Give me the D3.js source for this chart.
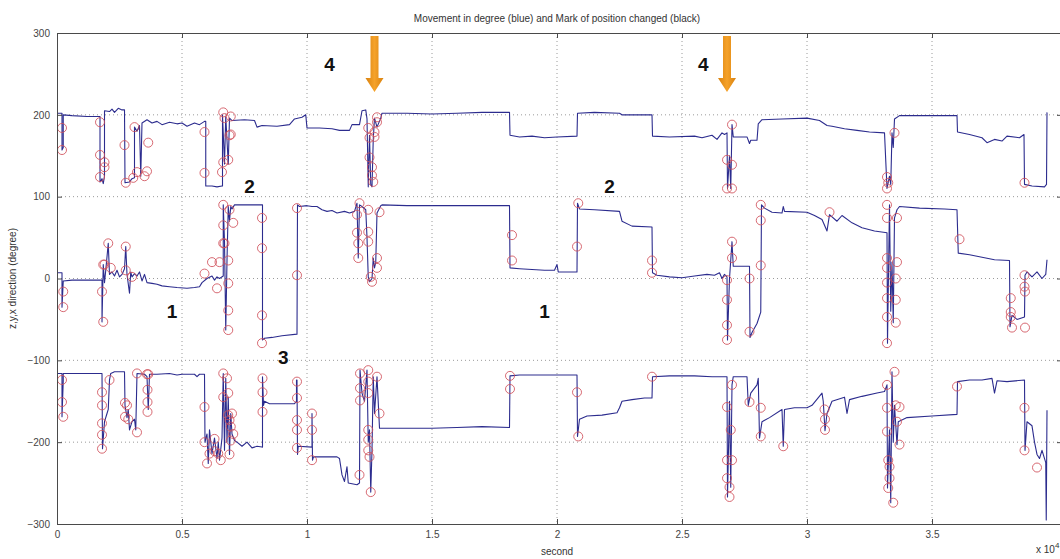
<!DOCTYPE html>
<html>
<head>
<meta charset="utf-8">
<script src="https://cdn.jsdelivr.net/npm/d3@7"></script>
<style>
  body { margin: 0; background: #fff; }
  svg { display: block; font-family: "Liberation Sans", Arial, sans-serif; }
  .grid line { stroke: #9a9a9a; stroke-dasharray: 1,3; }
  .axis path, .axis line { stroke: #4a4a4a; }
  .axis text { fill: #444; font-size: 10px; }
</style>
</head>
<body>
<svg id="chart" width="1060" height="559"></svg>
<script>
// x values in units of 10^4 seconds, y in degrees

// z direction (top band)
var topTrace = [[0.00,202],[0.02,202],[0.02,157],[0.025,160],[0.025,200],[0.06,199],[0.12,198],[0.17,198],[0.172,198],[0.172,118],
  [0.18,122],[0.185,116],[0.19,125],[0.19,205],[0.21,204],[0.22,207],[0.23,203],[0.245,208],[0.26,206],[0.27,206],[0.272,117],
  [0.29,118],[0.30,122],[0.31,123],[0.31,185],[0.32,180],[0.33,187],[0.335,125],[0.34,190],[0.36,194],[0.38,190],[0.40,192],
  [0.42,188],[0.45,191],[0.48,189],[0.50,190],[0.52,186],[0.55,190],[0.57,188],[0.59,192],[0.595,192],[0.595,113],[0.62,113],
  [0.64,112],[0.66,113],[0.662,113],[0.662,200],[0.67,140],[0.675,198],[0.685,140],[0.69,196],[0.70,193],[0.75,194],[0.79,193],
  [0.80,185],[0.82,187],[0.88,186],[0.93,188],[0.95,195],[0.98,197],[0.995,200],[1.0,184],[1.05,184],[1.10,183],[1.13,181],
  [1.17,181],[1.18,188],[1.21,188],[1.22,205],[1.235,206],[1.24,195],[1.245,112],[1.25,175],[1.255,115],[1.26,112],[1.265,170],
  [1.27,196],[1.28,185],[1.295,196],[1.30,202],[1.40,202],[1.50,201],[1.60,202],[1.70,203],[1.81,203],[1.812,175],[1.85,173],
  [1.90,174],[1.95,172],[2.0,173],[2.08,174],[2.082,202],[2.15,203],[2.25,202],[2.26,200],[2.38,200],[2.382,174],[2.45,173],
  [2.55,174],[2.58,172],[2.62,175],[2.64,170],[2.66,178],[2.67,176],[2.68,178],[2.682,110],[2.69,150],[2.695,110],[2.70,188],
  [2.705,173],[2.76,173],[2.77,165],[2.775,169],[2.80,169],[2.805,189],[2.82,194],[2.90,195],[3.0,196],[3.05,193],[3.08,187],
  [3.10,186],[3.15,183],[3.20,181],[3.25,179],[3.31,178],[3.32,110],[3.33,125],[3.335,115],[3.34,178],[3.345,160],[3.35,195],
  [3.37,199],[3.45,199],[3.55,199],[3.60,199],[3.602,179],[3.65,176],[3.70,172],[3.72,166],[3.75,170],[3.78,168],[3.80,174],
  [3.85,172],[3.868,176],[3.87,115],[3.90,113],[3.95,112],[3.958,115],[3.96,203]];

// y direction (middle band)
var midTrace = [[0.0,7],[0.02,7],[0.02,-35],[0.025,-3],[0.06,-2],[0.10,-2],[0.18,-2],[0.18,-53],[0.185,17],[0.19,-5],[0.195,10],
  [0.205,43],[0.21,5],[0.22,8],[0.23,3],[0.24,10],[0.25,2],[0.26,5],[0.27,12],[0.275,39],[0.28,5],[0.29,-18],[0.295,8],[0.30,2],
  [0.31,6],[0.32,3],[0.33,8],[0.34,-3],[0.35,5],[0.36,-5],[0.38,-6],[0.40,-7],[0.42,-9],[0.45,-10],[0.48,-11],[0.52,-12],
  [0.55,-11],[0.57,-10],[0.58,-5],[0.60,0],[0.62,3],[0.63,-2],[0.64,2],[0.65,0],[0.665,3],[0.665,90],[0.67,45],[0.675,-63],
  [0.68,22],[0.685,88],[0.69,70],[0.695,88],[0.70,85],[0.71,90],[0.75,90],[0.822,90],[0.822,-75],[0.83,-73],[0.86,-72],
  [0.90,-70],[0.96,-68],[0.962,90],[0.97,88],[1.0,89],[1.02,88],[1.04,88],[1.06,84],[1.08,82],[1.10,83],[1.12,80],[1.15,82],
  [1.17,80],[1.19,82],[1.20,92],[1.205,25],[1.21,90],[1.22,88],[1.235,84],[1.24,50],[1.245,2],[1.25,-4],[1.26,0],[1.265,25],
  [1.27,13],[1.275,20],[1.28,80],[1.295,89],[1.30,90],[1.40,89],[1.50,89],[1.60,89],[1.70,89],[1.81,89],[1.812,13],[1.85,12],
  [1.90,11],[1.95,10],[1.99,10],[2.0,17],[2.005,8],[2.05,8],[2.08,8],[2.082,92],[2.09,85],[2.15,84],[2.25,82],[2.26,70],
  [2.30,64],[2.38,63],[2.382,7],[2.40,4],[2.45,2],[2.50,1],[2.55,3],[2.60,5],[2.63,4],[2.65,7],[2.66,0],[2.67,5],[2.68,2],
  [2.682,-75],[2.69,0],[2.70,45],[2.705,15],[2.77,15],[2.772,-72],[2.78,-66],[2.80,-55],[2.815,-41],[2.818,90],[2.83,86],
  [2.86,81],[2.90,80],[2.905,88],[2.91,82],[3.0,81],[3.03,77],[3.06,72],[3.08,58],[3.09,78],[3.12,70],[3.14,77],[3.18,68],
  [3.22,62],[3.27,58],[3.32,56],[3.322,-79],[3.33,90],[3.335,-40],[3.34,20],[3.345,-54],[3.35,74],[3.36,84],[3.37,88],
  [3.45,86],[3.55,85],[3.60,84],[3.605,31],[3.65,29],[3.70,26],[3.75,23],[3.81,22],[3.812,-59],[3.82,-45],[3.84,-50],
  [3.87,-47],[3.872,4],[3.88,8],[3.90,2],[3.92,8],[3.94,0],[3.955,5],[3.96,23]];

// x direction (bottom band)
var botTrace = [[0.0,-116],[0.02,-116],[0.02,-169],[0.025,-125],[0.025,-116],[0.10,-116],[0.18,-116],[0.182,-208],[0.19,-175],
  [0.20,-165],[0.205,-160],[0.21,-124],[0.215,-116],[0.23,-114],[0.27,-114],[0.272,-155],[0.28,-170],[0.285,-160],[0.29,-185],
  [0.30,-175],[0.31,-172],[0.315,-185],[0.32,-116],[0.35,-117],[0.36,-120],[0.365,-160],[0.37,-117],[0.40,-117],[0.45,-116],
  [0.48,-118],[0.50,-117],[0.55,-117],[0.56,-120],[0.57,-117],[0.59,-117],[0.592,-200],[0.60,-190],[0.605,-226],[0.61,-185],
  [0.62,-214],[0.63,-195],[0.64,-220],[0.645,-200],[0.65,-222],[0.66,-195],[0.665,-116],[0.67,-210],[0.675,-122],[0.68,-200],
  [0.685,-145],[0.69,-215],[0.695,-165],[0.70,-190],[0.71,-198],[0.72,-200],[0.74,-205],[0.76,-200],[0.78,-207],[0.80,-205],
  [0.82,-206],[0.822,-206],[0.822,-120],[0.826,-155],[0.83,-150],[0.85,-153],[0.95,-153],[0.958,-150],[0.958,-124],[0.96,-124],
  [0.962,-215],[0.965,-205],[1.02,-206],[1.02,-165],[1.022,-222],[1.026,-218],
  [1.08,-218],[1.12,-218],[1.13,-220],[1.14,-240],[1.15,-248],[1.16,-230],[1.165,-250],[1.20,-252],[1.21,-250],[1.212,-112],
  [1.22,-140],[1.23,-150],[1.24,-112],[1.245,-200],[1.25,-185],[1.255,-261],[1.26,-210],[1.265,-120],[1.27,-165],[1.28,-120],
  [1.29,-183],[1.40,-183],[1.50,-183],[1.60,-182],[1.70,-181],[1.81,-182],[1.812,-119],[1.85,-118],[1.95,-118],[2.08,-118],
  [2.082,-193],[2.09,-172],[2.12,-168],[2.18,-167],[2.24,-164],[2.25,-158],[2.26,-150],[2.30,-148],[2.35,-146],[2.38,-146],
  [2.382,-120],[2.45,-119],[2.55,-119],[2.62,-120],[2.68,-120],[2.682,-267],[2.69,-150],[2.695,-255],[2.70,-130],[2.705,-120],
  [2.76,-120],[2.765,-155],[2.775,-140],[2.80,-130],[2.805,-122],[2.81,-195],[2.82,-175],[2.85,-170],[2.90,-160],[2.905,-205],
  [2.91,-160],[2.95,-158],[3.0,-158],[3.02,-155],[3.06,-140],[3.065,-150],[3.072,-186],[3.08,-165],[3.10,-150],[3.15,-145],
  [3.16,-165],[3.17,-148],[3.22,-144],[3.28,-140],[3.31,-138],[3.32,-130],[3.322,-256],[3.33,-185],[3.335,-274],[3.34,-114],
  [3.345,-200],[3.35,-155],[3.36,-203],[3.365,-175],[3.40,-170],[3.50,-168],[3.60,-166],[3.602,-126],[3.65,-124],[3.70,-124],
  [3.74,-122],[3.75,-140],[3.76,-125],[3.80,-126],[3.87,-124],[3.872,-210],[3.88,-175],[3.90,-180],[3.91,-200],[3.92,-215],
  [3.93,-220],[3.94,-210],[3.955,-225],[3.957,-295],[3.96,-161]];

// position-change marks (red circles)
var marksTop = [[0.02,184],[0.02,157],[0.172,191],[0.172,151],[0.172,124],[0.19,142],[0.19,136],[0.27,163],[0.275,117],
  [0.305,123],[0.32,130],[0.31,185],[0.35,125],[0.36,131],[0.365,166],[0.59,179],[0.59,129],[0.66,130],[0.665,142],
  [0.665,203],[0.67,196],[0.685,145],[0.69,175],[0.695,176],[0.695,198],[1.245,184],[1.25,172],[1.25,148],[1.26,136],
  [1.26,126],[1.265,118],[1.28,197],[1.28,191],[1.27,179],[1.27,173],[2.68,145],[2.70,139],[2.68,110],[2.70,110],[2.70,188],
  [3.32,124],[3.325,117],[3.32,110],[3.35,178],[3.87,117]];
var marksMid = [[0.025,-16],[0.025,-35],[0.18,-16],[0.185,-53],[0.185,17],[0.19,17],[0.205,43],[0.215,13],[0.275,39],
  [0.275,10],[0.30,2],[0.59,6],[0.62,20],[0.64,-12],[0.65,20],[0.665,90],[0.665,65],[0.665,43],[0.67,43],[0.685,22],
  [0.69,84],[0.685,-6],[0.685,-39],[0.685,-63],[0.705,68],[0.82,74],[0.82,37],[0.82,-45],[0.82,-79],[0.96,4],[0.96,86],
  [1.21,92],[1.20,78],[1.20,56],[1.205,43],[1.205,25],[1.245,84],[1.245,57],[1.245,45],[1.255,2],[1.26,-4],[1.28,13],
  [1.29,81],[1.28,25],[1.82,53],[1.82,22],[2.08,39],[2.085,92],[2.38,22],[2.38,7],[2.68,-2],[2.68,-26],[2.68,-57],[2.68,-75],
  [2.70,45],[2.70,25],[2.77,0],[2.77,-65],[2.815,16],[2.815,71],[2.815,90],[3.09,81],[3.32,90],[3.32,74],[3.32,25],[3.32,13],
  [3.32,-5],[3.32,-24],[3.32,-47],[3.32,-79],[3.355,0],[3.355,-26],[3.355,-54],[3.36,20],[3.36,74],[3.61,48],[3.815,-24],
  [3.815,-41],[3.815,-47],[3.82,-60],[3.87,4],[3.87,-10],[3.872,-16],[3.872,-60]];
var marksBot = [[0.02,-124],[0.02,-151],[0.025,-169],[0.18,-139],[0.18,-155],[0.18,-177],[0.18,-191],[0.18,-208],[0.21,-124],
  [0.272,-152],[0.28,-155],[0.272,-169],[0.285,-172],[0.32,-188],[0.32,-116],[0.36,-117],[0.365,-117],[0.362,-136],
  [0.362,-151],[0.362,-163],[0.59,-157],[0.59,-200],[0.60,-226],[0.61,-214],[0.63,-196],[0.63,-211],[0.645,-214],[0.665,-116],
  [0.665,-145],[0.68,-122],[0.685,-140],[0.685,-167],[0.69,-173],[0.695,-181],[0.69,-215],[0.695,-198],[0.70,-165],
  [0.705,-190],[0.655,-222],[0.822,-122],[0.822,-139],[0.822,-163],[0.96,-126],[0.96,-146],[0.96,-173],[0.96,-185],
  [0.96,-207],[1.02,-165],[1.02,-185],[1.02,-222],[1.21,-240],[1.212,-116],[1.212,-134],[1.212,-149],[1.245,-112],
  [1.245,-126],[1.245,-140],[1.245,-185],[1.245,-197],[1.245,-210],[1.25,-218],[1.255,-261],[1.28,-120],[1.29,-165],
  [1.812,-119],[1.812,-135],[2.08,-139],[2.085,-193],[2.38,-120],[2.68,-157],[2.68,-222],[2.68,-244],[2.69,-255],[2.69,-267],
  [2.70,-130],[2.695,-185],[2.70,-222],[2.77,-151],[2.815,-158],[2.815,-193],[2.905,-205],[3.07,-160],[3.072,-172],
  [3.072,-185],[3.32,-130],[3.32,-158],[3.32,-187],[3.325,-222],[3.33,-230],[3.33,-244],[3.325,-256],[3.345,-274],
  [3.35,-114],[3.355,-155],[3.36,-175],[3.37,-157],[3.37,-203],[3.60,-132],[3.87,-158],[3.87,-210],[3.92,-231]];

// tick labels
var xTicks = [0, 0.5, 1, 1.5, 2, 2.5, 3, 3.5];
var yTicks = [-300, -200, -100, 0, 100, 200, 300];

// numbered notes and arrows drawn on top of the plot
var notes = [
  {label: "4", x: 1.09, y: 262}, {label: "4", x: 2.585, y: 262},
  {label: "2", x: 0.77, y: 113}, {label: "2", x: 2.21, y: 113},
  {label: "1", x: 0.46, y: -40}, {label: "1", x: 1.95, y: -40},
  {label: "3", x: 0.905, y: -97}
];
var arrowX = [1.27, 2.68];

var svg = d3.select("#chart");
var plotL = 57, plotR = 1062, plotT = 33, plotB = 524;

var x = d3.scaleLinear().domain([0, 4.02]).range([plotL, plotR]);
var y = d3.scaleLinear().domain([-300, 300]).range([plotB, plotT]);

// Grid.
var grid = svg.append("g").attr("class", "grid");
grid.selectAll("line.v").data(xTicks.slice(1)).enter().append("line")
    .attr("x1", d => x(d)).attr("x2", d => x(d))
    .attr("y1", plotT).attr("y2", plotB);
grid.selectAll("line.h").data(yTicks.slice(1, -1)).enter().append("line")
    .attr("x1", plotL).attr("x2", plotR)
    .attr("y1", d => y(d)).attr("y2", d => y(d));

// Traces.
var line = d3.line().x(d => x(d[0])).y(d => y(d[1]));
[topTrace, midTrace, botTrace].forEach(function(tr) {
    svg.append("path")
        .attr("d", line(tr))
        .attr("fill", "none")
        .attr("stroke", "#2c2c8e")
        .attr("stroke-width", 1.1)
        .attr("stroke-linejoin", "round");
});

// Red marks.
var marks = marksTop.concat(marksMid, marksBot);
svg.append("g").selectAll("circle")
    .data(marks).enter().append("circle")
    .attr("cx", d => x(d[0]))
    .attr("cy", d => y(d[1]))
    .attr("r", 4.5)
    .attr("fill", "none")
    .attr("stroke", "#d0505a")
    .attr("stroke-opacity", 0.85)
    .attr("stroke-width", 1);

// Axes, MATLAB style with inward ticks.
svg.append("g").attr("class", "axis")
    .attr("transform", "translate(0," + plotB + ")")
    .call(d3.axisBottom(x).tickValues(xTicks).tickSize(-5).tickPadding(7).tickFormat(d3.format("")));
svg.append("g").attr("class", "axis")
    .attr("transform", "translate(" + plotL + ",0)")
    .call(d3.axisLeft(y).tickValues(yTicks).tickSize(-5).tickPadding(7));
svg.append("g").attr("class", "axis")
    .attr("transform", "translate(0," + plotT + ")")
    .call(d3.axisTop(x).tickValues(xTicks).tickSize(-5).tickFormat(""));
svg.append("g").attr("class", "axis")
    .attr("transform", "translate(" + plotR + ",0)")
    .call(d3.axisRight(y).tickValues(yTicks).tickSize(-5).tickFormat(""));
svg.selectAll(".axis .domain").attr("stroke", "#4a4a4a");

// Titles.
svg.append("text")
    .attr("x", 557).attr("y", 22)
    .attr("text-anchor", "middle")
    .attr("font-size", 10).attr("fill", "#333")
    .text("Movement in degree (blue) and Mark of position changed (black)");
svg.append("text")
    .attr("x", 557).attr("y", 555)
    .attr("text-anchor", "middle")
    .attr("font-size", 10).attr("fill", "#333")
    .text("second");
svg.append("text")
    .attr("transform", "translate(16," + y(0) + ") rotate(-90)")
    .attr("text-anchor", "middle")
    .attr("font-size", 10).attr("fill", "#333")
    .text("z,y,x direction (degree)");
var mult = svg.append("text")
    .attr("x", 1036).attr("y", 553)
    .attr("font-size", 10).attr("fill", "#333");
mult.append("tspan").text("x 10");
mult.append("tspan").attr("dy", -5).attr("font-size", 8).text("4");

// Notes.
svg.append("g").selectAll("text")
    .data(notes).enter().append("text")
    .attr("x", d => x(d.x))
    .attr("y", d => y(d.y))
    .attr("text-anchor", "middle")
    .attr("dominant-baseline", "central")
    .attr("font-size", 19)
    .attr("font-weight", "bold")
    .attr("fill", "#111")
    .text(d => d.label);

// Orange arrows.
var defs = svg.append("defs");
var grad = defs.append("linearGradient").attr("id", "org")
    .attr("x1", 0).attr("x2", 1).attr("y1", 0).attr("y2", 0);
grad.append("stop").attr("offset", "0%").attr("stop-color", "#d9820f");
grad.append("stop").attr("offset", "50%").attr("stop-color", "#f5a22a");
grad.append("stop").attr("offset", "100%").attr("stop-color", "#d9820f");
svg.append("g").selectAll("path")
    .data(arrowX).enter().append("path")
    .attr("d", function(d) {
        var cx = x(d);
        return "M" + (cx - 4) + ",36 L" + (cx + 4) + ",36 L" + (cx + 4) + ",78 L" + (cx + 9) + ",78 L" + cx + ",92 L" +
            (cx - 9) + ",78 L" + (cx - 4) + ",78 Z";
    })
    .attr("fill", "url(#org)");
</script>
</body>
</html>
